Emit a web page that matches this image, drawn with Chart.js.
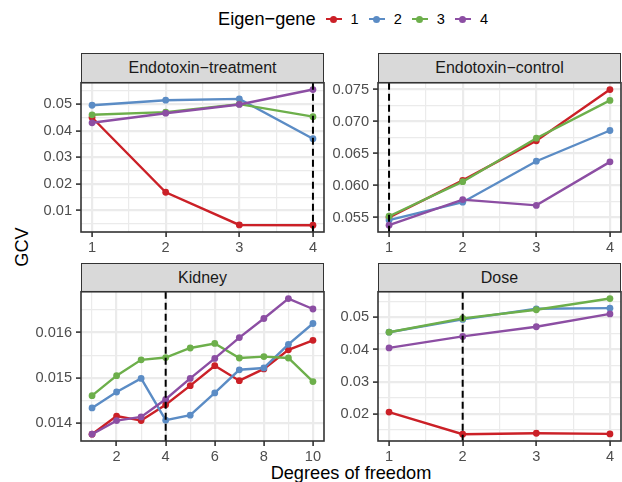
<!DOCTYPE html>
<html>
<head>
<meta charset="utf-8">
<script src="https://cdn.jsdelivr.net/npm/chart.js@4.4.0/dist/chart.umd.min.js"></script>
<style>
body { margin: 0; width: 622px; height: 482px; overflow: hidden; background: #fff; position: relative; font-family: "Liberation Sans", Arial, sans-serif; }
canvas, .strip, .txt { position: absolute; }
.strip { background: #D9D9D9; border: 1.5px solid #333; box-sizing: border-box; color: #1A1A1A; font-size: 16px; text-align: center; line-height: 27px; }
.txt { color: #000; white-space: nowrap; }
#legend { position: absolute; left: 218px; top: 8px; height: 22px; display: flex; align-items: center; font-size: 14.6px; color: #000; }
.key { position: relative; width: 16px; height: 16px; }
.key .ln { position: absolute; left: 0; right: 0; top: 7px; height: 2.4px; }
.key .dot { position: absolute; left: 4.5px; top: 4.6px; width: 7px; height: 7px; border-radius: 50%; }
</style>
</head>
<body>
<div id="legend"><span style="font-size:18.2px;margin-right:10px">Eigen−gene</span></div>
<div class="txt" style="left:0;width:702px;text-align:center;top:464px;font-size:18.2px;line-height:18px">Degrees of freedom</div>
<div class="txt" style="left:-8px;top:237px;width:60px;text-align:center;font-size:18.2px;line-height:20px;transform:rotate(-90deg)">GCV</div>

<script>
const geneNames = ['1', '2', '3', '4']
const geneColors = ['#CB2027', '#5B8CC5', '#6DAF4B', '#8C4EA3']

const panelTitles = ['Endotoxin−treatment', 'Endotoxin−control', 'Kidney', 'Dose']
const dfShort = [1, 2, 3, 4]
const dfKidney = [1, 2, 3, 4, 5, 6, 7, 8, 9, 10]

// GCV per eigen-gene (rows = gene 1..4)
const treatmentGcv = [
    [0.0450, 0.0169, 0.0046, 0.0045],
    [0.0496, 0.0515, 0.0520, 0.0370],
    [0.0460, 0.0470, 0.0500, 0.0453],
    [0.0430, 0.0466, 0.0499, 0.0555]
]
const controlGcv = [
    [0.0550, 0.0608, 0.0670, 0.0750],
    [0.0546, 0.0574, 0.0638, 0.0686],
    [0.0552, 0.0606, 0.0674, 0.0733],
    [0.0538, 0.0578, 0.0569, 0.0637]
]
const kidneyGcv = [
    [0.01376, 0.01416, 0.01406, 0.01441, 0.01483, 0.01527, 0.01494, 0.01520, 0.01562, 0.01583],
    [0.01434, 0.01469, 0.01499, 0.01407, 0.01418, 0.01467, 0.01518, 0.01522, 0.01574, 0.01620],
    [0.01461, 0.01505, 0.01540, 0.01545, 0.01566, 0.01576, 0.01544, 0.01547, 0.01544, 0.01492],
    [0.01376, 0.01406, 0.01414, 0.01453, 0.01499, 0.01543, 0.01589, 0.01631, 0.01675, 0.01652]
]
const doseGcv = [
    [0.0205, 0.0136, 0.0139, 0.0137],
    [0.0454, 0.0494, 0.0527, 0.0529],
    [0.0454, 0.0497, 0.0524, 0.0559],
    [0.0405, 0.0441, 0.0471, 0.0511]
]
const chosenDf = [4, 1, 4, 2]

const xTicksShort = ['1', '2', '3', '4']
const xTicksKidney = ['2', '4', '6', '8', '10']
const treatmentTicks = ['0.01', '0.02', '0.03', '0.04', '0.05']
const controlTicks = ['0.055', '0.060', '0.065', '0.070', '0.075']
const kidneyTicks = ['0.014', '0.015', '0.016']
const doseTicks = ['0.02', '0.03', '0.04', '0.05']

const panels = [
    { df: dfShort, gcv: treatmentGcv, xTicks: xTicksShort, yTicks: treatmentTicks, left: 81, top: 82, stripTop: 53 },
    { df: dfShort, gcv: controlGcv, xTicks: xTicksShort, yTicks: controlTicks, left: 378, top: 82, stripTop: 53 },
    { df: dfKidney, gcv: kidneyGcv, xTicks: xTicksKidney, yTicks: kidneyTicks, left: 81, top: 291, stripTop: 263 },
    { df: dfShort, gcv: doseGcv, xTicks: xTicksShort, yTicks: doseTicks, left: 378, top: 291, stripTop: 263 }
]
const panelW = 243
const panelH = 150
const axisW = 60
const axisH = 26
const padTop = 12
const padRight = 12

Chart.defaults.font.family = '"Liberation Sans", Arial, sans-serif'
Chart.defaults.animation = false

// legend
const legend = document.getElementById('legend')
geneNames.forEach((name, i) => {
    const key = document.createElement('div')
    key.className = 'key'
    key.innerHTML = `<div class="ln" style="background:${geneColors[i]}"></div><div class="dot" style="background:${geneColors[i]}"></div>`
    legend.appendChild(key)
    const lab = document.createElement('span')
    lab.innerText = name
    lab.style.margin = i < geneNames.length - 1 ? '0 10px 0 9px' : '0 0 0 9px'
    legend.appendChild(lab)
})

// ggplot-like range with 5% expansion
const expand = (lo, hi) => [lo - (hi - lo) * 0.05, hi + (hi - lo) * 0.05]

// majors + minors half way between (plus one beyond each end)
function withMinors(majors, lo, hi) {
    const step = majors[1] - majors[0]
    const minors = [majors[0] - step / 2, ...majors.map(v => v + step / 2)]
    const all = majors.map(v => ({ value: v, minor: false }))
        .concat(minors.filter(v => v >= lo && v <= hi).map(v => ({ value: v, minor: true })))
    return all.sort((a, b) => a.value - b.value)
}

const gridOpts = {
    color: '#EBEBEB',
    lineWidth: c => c.tick && c.tick.minor ? 1.2 : 2.2,
    tickColor: c => c.tick && c.tick.minor ? 'rgba(0,0,0,0)' : '#333',
    tickWidth: 1.6,
    tickLength: 5
}

const panelPlugin = {
    id: 'panelDecor',
    afterDatasetsDraw(chart, args, opts) {
        const { ctx, chartArea, scales } = chart
        const x = scales.x.getPixelForValue(opts.vline)
        ctx.save()
        ctx.strokeStyle = '#000'
        ctx.lineWidth = 2
        ctx.setLineDash([7, 4])
        ctx.beginPath()
        ctx.moveTo(x, chartArea.top)
        ctx.lineTo(x, chartArea.bottom)
        ctx.stroke()
        ctx.restore()
    },
    afterDraw(chart) {
        const { ctx, chartArea } = chart
        ctx.save()
        ctx.strokeStyle = '#333'
        ctx.lineWidth = 1.6
        ctx.strokeRect(chartArea.left, chartArea.top, chartArea.right - chartArea.left, chartArea.bottom - chartArea.top)
        ctx.restore()
    }
}

panels.forEach((p, k) => {
    const strip = document.createElement('div')
    strip.className = 'strip'
    strip.style.left = p.left + 'px'
    strip.style.top = p.stripTop + 'px'
    strip.style.width = panelW + 'px'
    strip.style.height = (p.top - p.stripTop + 1) + 'px'
    strip.innerText = panelTitles[k]
    document.body.appendChild(strip)

    const canvas = document.createElement('canvas')
    canvas.style.left = (p.left - axisW) + 'px'
    canvas.style.top = (p.top - padTop) + 'px'
    canvas.width = axisW + panelW + padRight
    canvas.height = padTop + panelH + axisH
    canvas.style.width = canvas.width + 'px'
    canvas.style.height = canvas.height + 'px'
    document.body.appendChild(canvas)

    const allY = p.gcv.flat()
    const [yMin, yMax] = expand(Math.min(...allY), Math.max(...allY))
    const [xMin, xMax] = expand(p.df[0], p.df[p.df.length - 1])
    const xMajors = p.xTicks.map(Number)
    const yMajors = p.yTicks.map(Number)

    new Chart(canvas, {
        type: 'line',
        data: {
            datasets: p.gcv.map((vals, i) => ({
                label: geneNames[i],
                data: vals.map((v, j) => ({ x: p.df[j], y: v })),
                borderColor: geneColors[i],
                backgroundColor: geneColors[i],
                borderWidth: 2.4,
                pointRadius: 3.4,
                pointBorderWidth: 0,
                tension: 0,
                order: p.gcv.length - 1 - i
            }))
        },
        options: {
            responsive: false,
            layout: { padding: { top: padTop, right: padRight, left: 0, bottom: 0 } },
            plugins: {
                legend: { display: false },
                tooltip: { enabled: false },
                panelDecor: { vline: chosenDf[k] }
            },
            scales: {
                x: {
                    type: 'linear',
                    min: xMin,
                    max: xMax,
                    afterBuildTicks: s => { s.ticks = withMinors(xMajors, xMin, xMax) },
                    afterFit: s => { s.height = axisH },
                    grid: gridOpts,
                    border: { display: false },
                    ticks: {
                        autoSkip: false,
                        maxRotation: 0,
                        padding: 2,
                        color: '#4D4D4D',
                        font: { size: 14.6 },
                        callback: (v, i, ticks) => ticks[i].minor ? '' : p.xTicks[xMajors.indexOf(ticks[i].value)]
                    }
                },
                y: {
                    type: 'linear',
                    min: yMin,
                    max: yMax,
                    afterBuildTicks: s => { s.ticks = withMinors(yMajors, yMin, yMax) },
                    afterFit: s => { s.width = axisW },
                    grid: gridOpts,
                    border: { display: false },
                    ticks: {
                        autoSkip: false,
                        padding: 4,
                        color: '#4D4D4D',
                        font: { size: 14.6 },
                        callback: (v, i, ticks) => ticks[i].minor ? '' : p.yTicks[yMajors.findIndex(m => Math.abs(m - ticks[i].value) < 1e-9)]
                    }
                }
            }
        },
        plugins: [panelPlugin]
    })
})
</script>
</body>
</html>
